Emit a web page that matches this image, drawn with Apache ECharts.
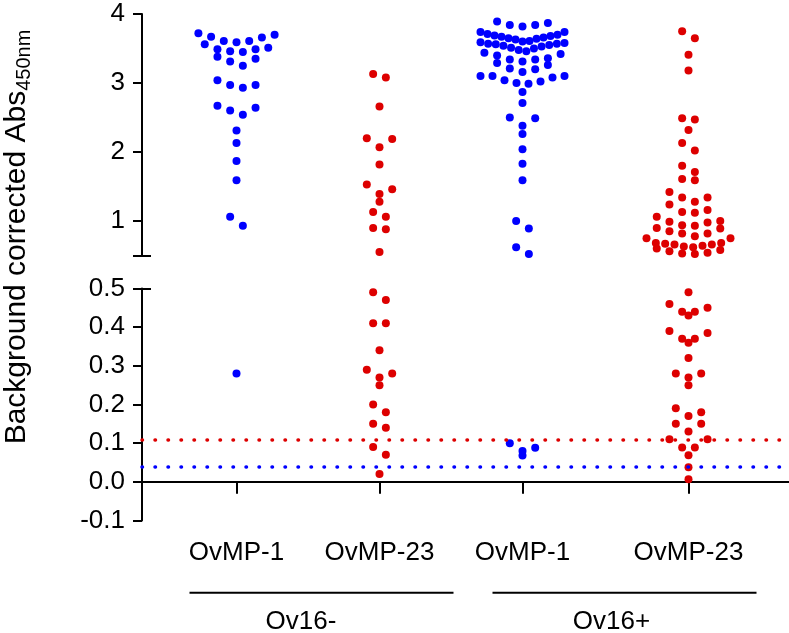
<!DOCTYPE html>
<html><head><meta charset="utf-8">
<script src="https://cdn.jsdelivr.net/npm/echarts@6/dist/echarts.min.js"></script>
<style>html,body{margin:0;padding:0;background:#fff}#c{width:789px;height:633px}</style>
</head><body><div id="c"></div>
<script>
// ---------- data ----------
const categories = ['OvMP-1', 'OvMP-23', 'OvMP-1', 'OvMP-23'];
const groupLabels = ['Ov16-', 'Ov16+'];
const topTickValues = [1, 2, 3, 4];
const ov16negOvMP1 = [3.72, 3.70, 3.67, 3.66, 3.61, 3.61, 3.59, 3.56, 3.51, 3.49, 3.49, 3.46, 3.45, 3.38, 3.35, 3.31, 3.25,
  3.04, 2.97, 2.97, 2.93, 2.67, 2.64, 2.60, 2.54, 2.31, 2.13, 1.87, 1.59, 1.06, 0.93, 0.28];
const ov16negOvMP23 = [3.13, 3.08, 2.66, 2.20, 2.19, 2.07, 1.82, 1.53, 1.46, 1.39, 1.28, 1.13, 1.06, 0.90, 0.88, 0.55,
  0.49, 0.47, 0.41, 0.41, 0.34, 0.29, 0.28, 0.27, 0.25, 0.20, 0.18, 0.15, 0.14, 0.09, 0.07, 0.02];
const ov16posOvMP1 = [3.89, 3.87, 3.84, 3.84, 3.82, 3.74, 3.74,
  3.71, 3.70, 3.69, 3.68, 3.67, 3.66, 3.65, 3.64, 3.63, 3.61, 3.60, 3.58, 3.57, 3.55,
  3.59, 3.57, 3.56, 3.54, 3.53, 3.51, 3.50, 3.48, 3.46, 3.44, 3.42, 3.40,
  3.36, 3.34, 3.34, 3.31, 3.29, 3.26, 3.21, 3.20, 3.16,
  3.10, 3.10, 3.10, 3.08, 3.04, 3.02, 3.00, 2.99,
  2.87, 2.71, 2.50, 2.49, 2.38, 2.26, 2.04, 1.83, 1.59, 1.00, 0.89, 0.62, 0.52,
  0.10, 0.088, 0.08, 0.068];
const ov16posOvMP23 = [3.75, 3.65, 3.41, 3.18, 2.49, 2.47, 2.32, 2.13, 2.02, 1.80, 1.71, 1.61, 1.59, 1.42, 1.34, 1.34,
  1.28, 1.24, 1.16, 1.13, 1.12, 1.06, 1.00, 0.99, 0.98, 0.94, 0.93, 0.90, 0.89, 0.85, 0.82, 0.82, 0.78, 0.75, 0.75,
  0.68, 0.68, 0.67, 0.66, 0.66, 0.64, 0.63, 0.62, 0.60, 0.58, 0.56, 0.54, 0.53, 0.52,
  0.49, 0.46, 0.45, 0.44, 0.44, 0.43, 0.39, 0.385, 0.37, 0.37, 0.36, 0.32, 0.28, 0.28, 0.27, 0.25,
  0.19, 0.18, 0.17, 0.15, 0.15, 0.13, 0.11, 0.11, 0.089, 0.089, 0.069, 0.038, 0.007];
const cutoffOvMP23 = 0.11;
const cutoffOvMP1 = 0.045;

// ---------- layout / style ----------
const FONT = 'Arial, "Liberation Sans", Helvetica, sans-serif';
const BLUE = '#0000ff', RED = '#dd0000';
const groups = [
  {vals: ov16negOvMP1, color: BLUE}, {vals: ov16negOvMP23, color: RED},
  {vals: ov16posOvMP1, color: BLUE}, {vals: ov16posOvMP23, color: RED}
];
const X_MAX = 647;                       // axis units = px across the plot
const catPos = [94.5, 237.5, 380.5, 546.5];
const BREAK = 0.5;
const ROW_H = 10, MAX_STEP = 12.7, MAX_W = 84, SYM = 8;

const chart = echarts.init(document.getElementById('c'), null, {renderer: 'canvas'});

const axisLineStyle = {color: '#000', width: 2};
const labelStyle = {color: '#000', fontSize: 26, fontFamily: FONT};

const baseOption = {
  animation: false,
  grid: [
    {left: 142, right: 0, top: 14, height: 241.5},
    {left: 142, right: 0, top: 288.5, height: 232}
  ],
  xAxis: [
    {type: 'value', gridIndex: 0, min: 0, max: X_MAX, show: false},
    {type: 'value', gridIndex: 1, min: 0, max: X_MAX, position: 'bottom',
      axisLine: {show: true, lineStyle: axisLineStyle},
      axisTick: {show: true, length: 12, lineStyle: axisLineStyle, customValues: catPos},
      axisLabel: {show: true, customValues: catPos, margin: 19, ...labelStyle,
        formatter: v => { const i = catPos.findIndex(p => Math.abs(p - v) < 1e-6); return i >= 0 ? categories[i] : ''; }},
      splitLine: {show: false}}
  ],
  yAxis: [
    {type: 'value', gridIndex: 0, position: 'left', min: BREAK, max: 4,
      axisLine: {show: true, lineStyle: axisLineStyle},
      axisTick: {show: true, length: 9, lineStyle: axisLineStyle, customValues: [BREAK].concat(topTickValues)},
      axisLabel: {show: true, customValues: topTickValues, margin: 17, ...labelStyle},
      splitLine: {show: false}},
    {type: 'value', gridIndex: 0, position: 'left', min: BREAK, max: 4,
      axisLine: {show: false},
      axisTick: {show: true, inside: true, length: 9, lineStyle: axisLineStyle, customValues: [BREAK]},
      axisLabel: {show: false}, splitLine: {show: false}},
    {type: 'value', gridIndex: 1, position: 'left', min: -0.1, max: BREAK, interval: 0.1,
      axisLine: {show: true, lineStyle: axisLineStyle},
      axisTick: {show: true, length: 9, lineStyle: axisLineStyle},
      axisLabel: {show: true, margin: 17, ...labelStyle, formatter: v => v.toFixed(1)},
      splitLine: {show: false}},
    {type: 'value', gridIndex: 1, position: 'left', min: -0.1, max: BREAK,
      axisLine: {show: false},
      axisTick: {show: true, inside: true, length: 9, lineStyle: axisLineStyle, customValues: [BREAK]},
      axisLabel: {show: false}, splitLine: {show: false}}
  ],
  series: []
};
chart.setOption(baseOption);

// Prism-like row swarm computed through the chart's own scales
function swarm(vals, seg, cx) {
  const finder = {gridIndex: seg};
  const cpx = chart.convertToPixel(finder, [cx, seg === 0 ? 2 : 0.2])[0];
  const pts = vals.map(v => ({v, py: chart.convertToPixel(finder, [cx, v])[1]}));
  pts.sort((a, b) => b.v - a.v);
  const rows = []; let cur = null;
  pts.forEach(p => {
    if (!cur || p.py - cur.start > ROW_H) { cur = {start: p.py, items: []}; rows.push(cur); }
    cur.items.push(p);
  });
  const out = [];
  rows.forEach(r => {
    const n = r.items.length;
    const s = n > 1 ? Math.min(MAX_STEP, MAX_W / (n - 1)) : 0;
    const slots = [];
    for (let k = 0; k < n; k++) slots.push((k - (n - 1) / 2) * s);
    slots.sort((a, b) => (Math.abs(a) - Math.abs(b)) || (b - a));
    const asc = r.items.slice().sort((a, b) => a.v - b.v);
    asc.forEach((p, i) => {
      const x = chart.convertFromPixel(finder, [cpx + slots[i], p.py])[0];
      out.push([x, p.v]);
    });
  });
  return out;
}

const series = [];
groups.forEach((g, gi) => {
  const topVals = g.vals.filter(v => v >= BREAK);
  const botVals = g.vals.filter(v => v < BREAK);
  series.push({type: 'scatter', xAxisIndex: 0, yAxisIndex: 0, symbolSize: SYM, itemStyle: {color: g.color, opacity: 1},
    data: swarm(topVals, 0, catPos[gi]), z: 3});
  series.push({type: 'scatter', xAxisIndex: 1, yAxisIndex: 2, symbolSize: SYM, itemStyle: {color: g.color, opacity: 1},
    data: swarm(botVals, 1, catPos[gi]), z: 3});
});
// cut-off lines
series.push({type: 'line', xAxisIndex: 1, yAxisIndex: 2, data: [], silent: true,
  markLine: {silent: true, symbol: 'none', label: {show: false}, animation: false,
    data: [
      {yAxis: cutoffOvMP23, lineStyle: {color: RED, width: 3.5, type: [0.5, 12.5], cap: 'round'}},
      {yAxis: cutoffOvMP1, lineStyle: {color: BLUE, width: 3.5, type: [0.5, 12.5], cap: 'round'}}
    ]}, z: 2});

// group brackets and labels
const gy = 592.7, gly = 621.7;
const p = i => chart.convertToPixel({gridIndex: 1}, [catPos[i], 0])[0];
const spans = [[p(0) - 47, p(1) + 74], [p(2) - 30, p(3) + 68]];
const groupCenters = [(p(0) + p(1)) / 2 - 7, (p(2) + p(3)) / 2 + 6];
const graphic = [];
spans.forEach((s, i) => {
  graphic.push({type: 'line', shape: {x1: s[0], y1: gy, x2: s[1], y2: gy}, style: {stroke: '#000', lineWidth: 2}});
  graphic.push({type: 'text', x: groupCenters[i], y: gly,
    style: {text: groupLabels[i], fill: '#000', fontSize: 26, fontFamily: FONT, align: 'center', verticalAlign: 'middle'}});
});
graphic.push({type: 'text', x: 17, y: 237, rotation: Math.PI / 2,
  style: {text: '{a|Background corrected Abs}{b|450nm}', align: 'center', verticalAlign: 'middle',
    rich: {a: {fontSize: 30, fontFamily: FONT, fill: '#000', lineHeight: 34},
           b: {fontSize: 20, fontFamily: FONT, fill: '#000', lineHeight: 16, verticalAlign: 'bottom'}}}});

chart.setOption({series, graphic});
</script></body></html>
